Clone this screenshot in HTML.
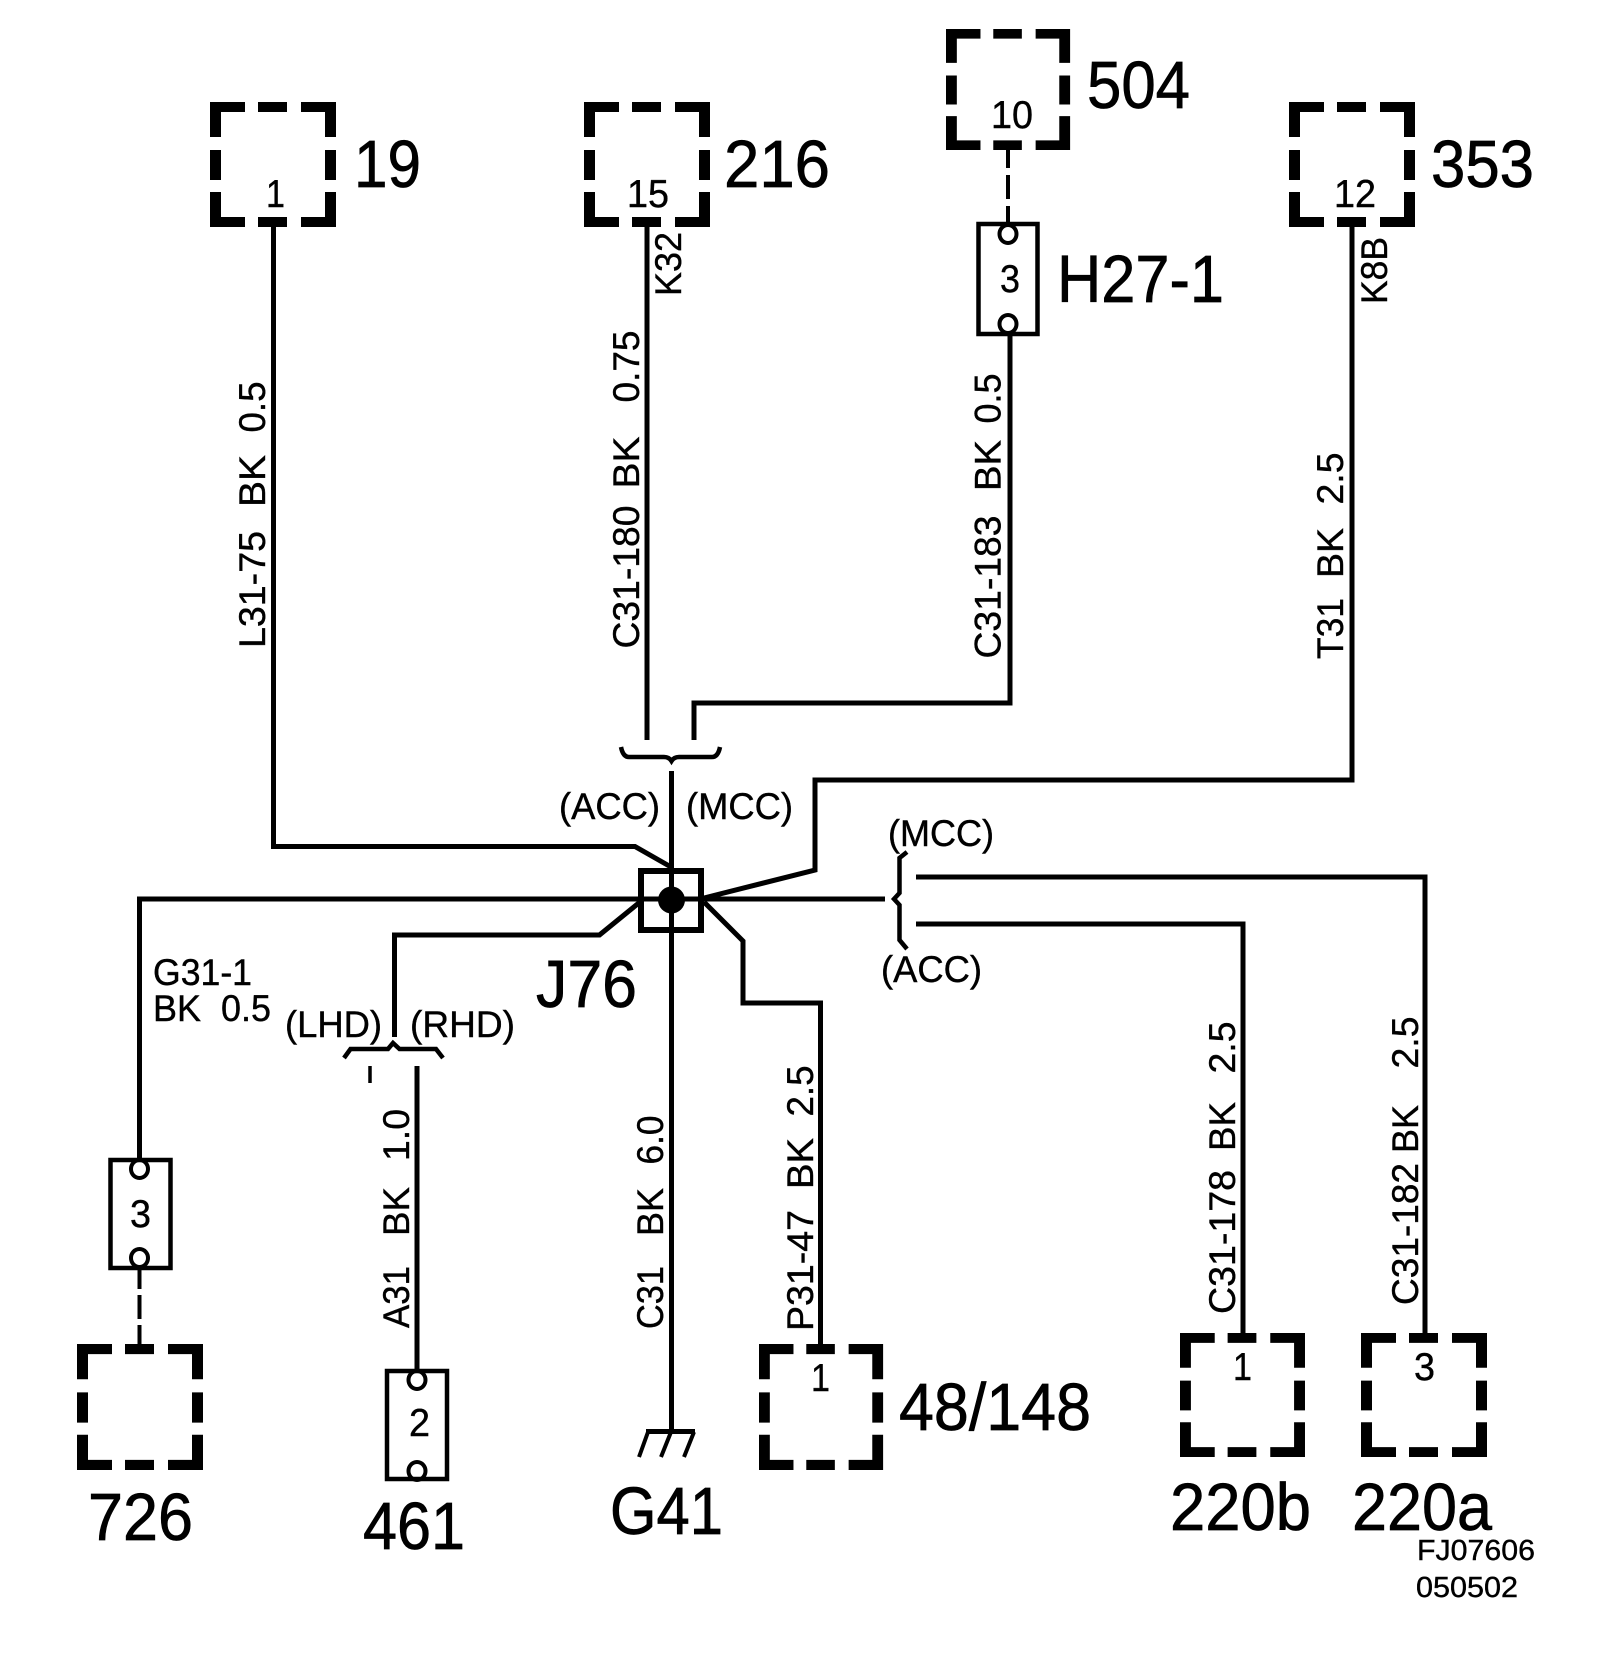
<!DOCTYPE html>
<html><head><meta charset="utf-8"><style>
html,body{margin:0;padding:0;background:#fff}
svg{display:block}
text{font-family:"Liberation Sans",sans-serif;fill:#000;white-space:pre;stroke:#000;stroke-width:.4}
.l{font-size:67px;stroke-width:.7}.s{font-size:39px}.m{font-size:37px}.t{font-size:29px}
.w{fill:none;stroke:#000;stroke-width:5}
</style></head><body>
<svg xmlns="http://www.w3.org/2000/svg" width="1600" height="1670" viewBox="0 0 1600 1670">
<defs><path id="b" d="M0 0H35V10H11V35H0ZM48 0H77V10H48ZM91 0H126V35H115V10H91ZM0 48H11V78H0ZM115 48H126V78H115ZM0 90H11V115H35V125H0ZM48 115H77V125H48ZM91 115H115V90H126V125H91Z"/></defs>
<rect width="1600" height="1670" fill="#fff"/>
<use href="#b" transform="translate(210,102)"/>
<use href="#b" transform="translate(584,102)"/>
<use href="#b" transform="translate(946,29) scale(0.985,0.968)"/>
<use href="#b" transform="translate(1289,102)"/>
<use href="#b" transform="translate(77,1344) scale(1,1.008)"/>
<use href="#b" transform="translate(759,1344) scale(0.985,1.008)"/>
<use href="#b" transform="translate(1180,1333) scale(0.992,0.992)"/>
<use href="#b" transform="translate(1361,1333) scale(1,0.992)"/>

<g class="w">
<path d="M273.5 227V846.5H635L671 867"/>
<path d="M647 227V740"/>
<path d="M694 740V703H1010V335"/>
<path d="M621 747Q623 757 629 757H664Q669 757 671.5 761Q674 757 679 757H712Q718 757 720 747" stroke-width="4.5"/>
<path d="M671.5 771V1431"/>
<path d="M1352 227V780H815V870L704 898"/>
<path d="M139.5 1160V899H885"/>
<path d="M640 902L599.5 935H394.5V1037"/>
<path d="M704 902L743 941V1003H820.5V1344"/>
<path d="M907 852L899.5 858V893L894 899L899.5 905V940L907 949" stroke-width="4.5"/>
<path d="M916 877H1425V1334"/>
<path d="M916 924H1243V1334"/>
<path d="M344 1058L350.5 1049H388L393 1043L399.5 1049H436L443 1058" stroke-width="4.5"/>
<path d="M370 1066V1083" stroke-width="3.5"/>
<path d="M417 1066V1372"/>
<path d="M1008 150V168M1008 175V199M1008 206V224" stroke-width="4"/>
<path d="M139.500 1269V1289M139.500 1295V1319M139.500 1325V1344" stroke-width="4"/>
<rect x="641" y="871" width="60" height="59" stroke-width="6"/>
<path d="M638 931H704" stroke-width="4"/>
<rect x="978.5" y="224" width="59" height="110" stroke-width="4.5"/>
<rect x="110.5" y="1160" width="60" height="108" stroke-width="4.5"/>
<rect x="387" y="1371" width="60" height="108" stroke-width="4.5"/>
<g stroke-width="4">
<ellipse cx="1008" cy="234" rx="8.5" ry="9"/><ellipse cx="1008" cy="324" rx="8.5" ry="9"/>
<ellipse cx="139.5" cy="1169" rx="8.5" ry="9"/><ellipse cx="139.5" cy="1258" rx="8.5" ry="9"/>
<ellipse cx="417" cy="1380" rx="8.5" ry="9"/><ellipse cx="417" cy="1471" rx="8.5" ry="9"/>
</g>
<path d="M646 1431.500H695" />
<path d="M648 1432L639 1457M671 1432L661 1457M694 1432L684 1457" stroke-width="4"/>
</g>
<circle cx="671.5" cy="900" r="13.500" fill="#000"/>

<text class="l" x="354" y="187" textLength="67" lengthAdjust="spacingAndGlyphs">19</text>
<text class="l" x="724" y="187" textLength="106" lengthAdjust="spacingAndGlyphs">216</text>
<text class="l" x="1087" y="108" textLength="103" lengthAdjust="spacingAndGlyphs">504</text>
<text class="l" x="1431" y="187" textLength="103" lengthAdjust="spacingAndGlyphs">353</text>
<text class="l" x="1057" y="302" textLength="167" lengthAdjust="spacingAndGlyphs">H27-1</text>
<text class="l" x="536" y="1007" textLength="101" lengthAdjust="spacingAndGlyphs">J76</text>
<text class="l" x="88" y="1540" textLength="105" lengthAdjust="spacingAndGlyphs">726</text>
<text class="l" x="363" y="1549" textLength="102" lengthAdjust="spacingAndGlyphs">461</text>
<text class="l" x="610" y="1534" textLength="113" lengthAdjust="spacingAndGlyphs">G41</text>
<text class="l" x="899" y="1430" textLength="192" lengthAdjust="spacingAndGlyphs">48/148</text>
<text class="l" x="1170" y="1530" textLength="141" lengthAdjust="spacingAndGlyphs">220b</text>
<text class="l" x="1352" y="1530" textLength="140" lengthAdjust="spacingAndGlyphs">220a</text>

<text class="s" x="266" y="207" textLength="19" lengthAdjust="spacingAndGlyphs">1</text>
<text class="s" x="627" y="207" textLength="42" lengthAdjust="spacingAndGlyphs">15</text>
<text class="s" x="991" y="128" textLength="42" lengthAdjust="spacingAndGlyphs">10</text>
<text class="s" x="1334" y="207" textLength="42" lengthAdjust="spacingAndGlyphs">12</text>
<text class="s" x="1000" y="292" textLength="20" lengthAdjust="spacingAndGlyphs">3</text>
<text class="s" x="130" y="1227" textLength="21" lengthAdjust="spacingAndGlyphs">3</text>
<text class="s" x="409" y="1436" textLength="21" lengthAdjust="spacingAndGlyphs">2</text>
<text class="s" x="811" y="1391" textLength="19" lengthAdjust="spacingAndGlyphs">1</text>
<text class="s" x="1233" y="1380" textLength="19" lengthAdjust="spacingAndGlyphs">1</text>
<text class="s" x="1414" y="1380" textLength="21" lengthAdjust="spacingAndGlyphs">3</text>

<text class="m" transform="translate(265,648) rotate(-90)" textLength="117" lengthAdjust="spacingAndGlyphs">L31-75</text>
<text class="m" transform="translate(265,507) rotate(-90)" textLength="52" lengthAdjust="spacingAndGlyphs">BK</text>
<text class="m" transform="translate(265,432.500) rotate(-90)" textLength="51" lengthAdjust="spacingAndGlyphs">0.5</text>

<text class="m" transform="translate(639,648.500) rotate(-90)" textLength="143" lengthAdjust="spacingAndGlyphs">C31-180</text>
<text class="m" transform="translate(639,488.500) rotate(-90)" textLength="52" lengthAdjust="spacingAndGlyphs">BK</text>
<text class="m" transform="translate(639,402.500) rotate(-90)" textLength="72" lengthAdjust="spacingAndGlyphs">0.75</text>

<text class="m" transform="translate(681,296) rotate(-90)" textLength="64" lengthAdjust="spacingAndGlyphs">K32</text>

<text class="m" transform="translate(1000.500,658.500) rotate(-90)" textLength="143" lengthAdjust="spacingAndGlyphs">C31-183</text>
<text class="m" transform="translate(1000.500,491) rotate(-90)" textLength="51" lengthAdjust="spacingAndGlyphs">BK</text>
<text class="m" transform="translate(1000.500,423.500) rotate(-90)" textLength="50" lengthAdjust="spacingAndGlyphs">0.5</text>

<text class="m" transform="translate(1387,304) rotate(-90)" textLength="67" lengthAdjust="spacingAndGlyphs">K8B</text>

<text class="m" transform="translate(1343,659) rotate(-90)" textLength="61" lengthAdjust="spacingAndGlyphs">T31</text>
<text class="m" transform="translate(1343,578) rotate(-90)" textLength="50" lengthAdjust="spacingAndGlyphs">BK</text>
<text class="m" transform="translate(1343,504.500) rotate(-90)" textLength="52" lengthAdjust="spacingAndGlyphs">2.5</text>

<text class="m" transform="translate(409,1328) rotate(-90)" textLength="62" lengthAdjust="spacingAndGlyphs">A31</text>
<text class="m" transform="translate(409,1236) rotate(-90)" textLength="49" lengthAdjust="spacingAndGlyphs">BK</text>
<text class="m" transform="translate(409,1161) rotate(-90)" textLength="52" lengthAdjust="spacingAndGlyphs">1.0</text>

<text class="m" transform="translate(663,1329) rotate(-90)" textLength="63" lengthAdjust="spacingAndGlyphs">C31</text>
<text class="m" transform="translate(663,1236) rotate(-90)" textLength="48" lengthAdjust="spacingAndGlyphs">BK</text>
<text class="m" transform="translate(663,1164.500) rotate(-90)" textLength="49" lengthAdjust="spacingAndGlyphs">6.0</text>

<text class="m" transform="translate(813,1331) rotate(-90)" textLength="121" lengthAdjust="spacingAndGlyphs">P31-47</text>
<text class="m" transform="translate(813,1189) rotate(-90)" textLength="51" lengthAdjust="spacingAndGlyphs">BK</text>
<text class="m" transform="translate(813,1116.500) rotate(-90)" textLength="51" lengthAdjust="spacingAndGlyphs">2.5</text>

<text class="m" transform="translate(1235,1314) rotate(-90)" textLength="144" lengthAdjust="spacingAndGlyphs">C31-178</text>
<text class="m" transform="translate(1235,1151) rotate(-90)" textLength="49" lengthAdjust="spacingAndGlyphs">BK</text>
<text class="m" transform="translate(1235,1073.500) rotate(-90)" textLength="52" lengthAdjust="spacingAndGlyphs">2.5</text>

<text class="m" transform="translate(1418,1305) rotate(-90)" textLength="142" lengthAdjust="spacingAndGlyphs">C31-182</text>
<text class="m" transform="translate(1418,1153) rotate(-90)" textLength="48" lengthAdjust="spacingAndGlyphs">BK</text>
<text class="m" transform="translate(1418,1068.500) rotate(-90)" textLength="52" lengthAdjust="spacingAndGlyphs">2.5</text>

<text class="m" x="153" y="985" textLength="99" lengthAdjust="spacingAndGlyphs">G31-1</text>
<text class="m" x="153" y="1021" textLength="118" lengthAdjust="spacingAndGlyphs">BK  0.5</text>
<text class="m" x="559" y="819" textLength="101" lengthAdjust="spacingAndGlyphs">(ACC)</text>
<text class="m" x="686" y="819" textLength="107" lengthAdjust="spacingAndGlyphs">(MCC)</text>
<text class="m" x="888" y="846" textLength="106" lengthAdjust="spacingAndGlyphs">(MCC)</text>
<text class="m" x="881" y="982" textLength="101" lengthAdjust="spacingAndGlyphs">(ACC)</text>
<text class="m" x="285" y="1037" textLength="97" lengthAdjust="spacingAndGlyphs">(LHD)</text>
<text class="m" x="410" y="1037" textLength="105" lengthAdjust="spacingAndGlyphs">(RHD)</text>

<text class="t" x="1417" y="1560" textLength="118" lengthAdjust="spacingAndGlyphs">FJ07606</text>
<text class="t" x="1416" y="1597" textLength="102" lengthAdjust="spacingAndGlyphs">050502</text>
</svg>
</body></html>
